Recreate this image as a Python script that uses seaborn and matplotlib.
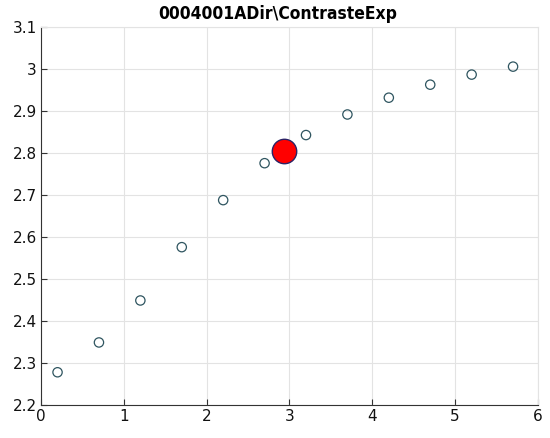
import numpy as np
import pandas as pd
import matplotlib
matplotlib.use("Agg")
import matplotlib.pyplot as plt
import seaborn as sns
from matplotlib.ticker import FuncFormatter

# data
x_vals = [0.2, 0.7, 1.2, 1.7, 2.2, 2.7, 3.2, 3.7, 4.2, 4.7, 5.2, 5.7]
y_vals = [2.278, 2.349, 2.449, 2.576, 2.688, 2.776, 2.843, 2.892, 2.932, 2.963, 2.987, 3.006]
best_x = [2.93]
best_y = [2.804]
title = "0004001ADir\\ContrasteExp"

sns.set_style("whitegrid")
plt.rcParams['font.family'] = ['DejaVu Sans']

df = pd.DataFrame({"x": x_vals, "y": y_vals})
best = pd.DataFrame({"x": best_x, "y": best_y})

fig = plt.figure(figsize=(5.5, 4.38), dpi=100)
ax = fig.add_axes([0.0745, 0.0753, 0.9035, 0.8627])

sns.scatterplot(data=df, x="x", y="y", ax=ax, s=45, marker="o",
                facecolor="none", edgecolor="#2f5560", linewidth=0.9, zorder=3)
sns.scatterplot(data=best, x="x", y="y", ax=ax, s=310, marker="o",
                color="#ff0000", edgecolor="#2c2366", linewidth=1.0, zorder=4)

ax.set_xlim(0, 6)
ax.set_ylim(2.2, 3.1)
ax.set_xticks(np.arange(0, 7, 1))
ax.set_yticks(np.round(np.arange(2.2, 3.11, 0.1), 1))
ax.yaxis.set_major_formatter(FuncFormatter(lambda v, p: f"{v:g}"))
ax.set_xlabel("")
ax.set_ylabel("")
ax.grid(True, color="#e3e3e3", linewidth=0.8)

for side in ["top", "right"]:
    ax.spines[side].set_color("#e3e3e3")
    ax.spines[side].set_linewidth(0.8)
for side in ["left", "bottom"]:
    ax.spines[side].set_color("#333333")
    ax.spines[side].set_linewidth(0.8)

ax.tick_params(axis="both", direction="in", length=4, width=0.8, color="#333333",
               labelsize=11, labelcolor="#111111", pad=3)
ax.tick_params(top=False, right=False, bottom=True, left=True)
ax.set_title(title, fontsize=12.5, fontweight="bold", fontstretch="condensed",
             color="#000000", x=0.477, pad=6)

fig.savefig("out.png", dpi=100)
